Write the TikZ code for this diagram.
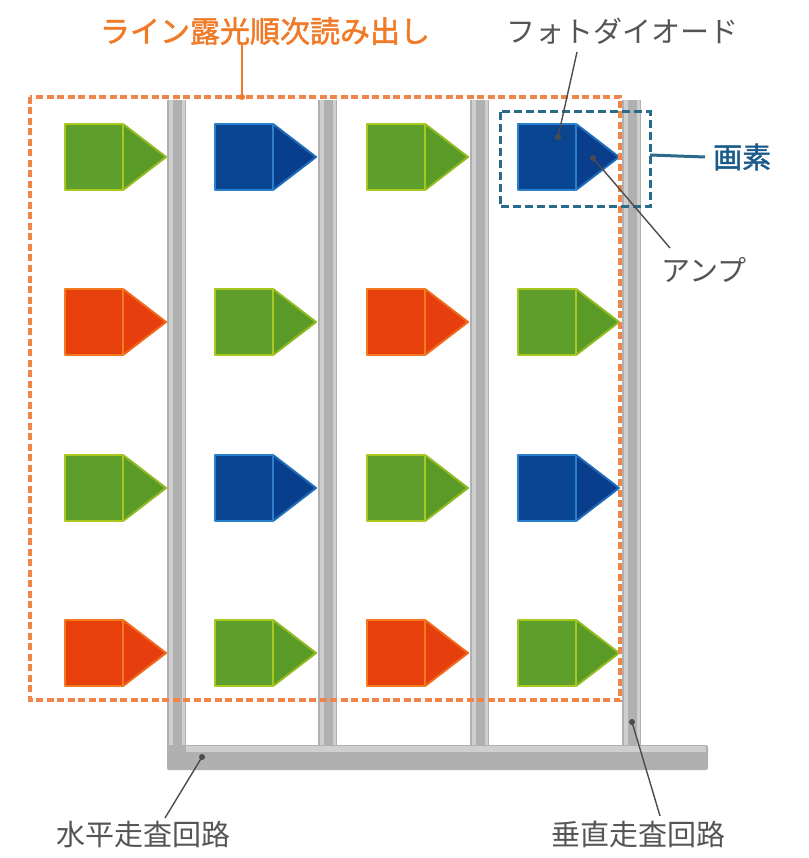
\documentclass[tikz,border=0pt]{standalone}
\usepackage{fontspec}
\setmainfont{Noto Sans CJK JP}
\newfontfamily\jpbold[FakeBold=1.6]{Noto Sans CJK JP}
\definecolor{gfill}{HTML}{5E9E2A}
\definecolor{gedge}{HTML}{A8C820}
\definecolor{gtri}{HTML}{5A9A26}
\definecolor{bfill}{HTML}{0A4592}
\definecolor{bedge}{HTML}{2A80CC}
\definecolor{btri}{HTML}{083E8C}
\definecolor{rfill}{HTML}{E8400C}
\definecolor{redge}{HTML}{F47A20}
\definecolor{rtri}{HTML}{E63E0C}
\definecolor{orangeL}{HTML}{F07A28}
\definecolor{orangeD}{HTML}{EF8548}
\definecolor{tealD}{HTML}{2A6A8A}
\definecolor{tealT}{HTML}{1A5A8A}
\definecolor{barA}{HTML}{B0B0B0}
\definecolor{barB}{HTML}{CFCFCF}
\definecolor{txtg}{HTML}{555555}
\newcommand\pixel[5]{%
  \fill[#5] (#1+58,#2) -- ++(43,33) -- ++(-43,33) -- cycle;
  \draw[#4!70!#5, line width=2pt, line join=round] (#1+58,#2) -- ++(43,33) -- ++(-43,33);
  \filldraw[fill=#3, draw=#4, line width=2.5pt, line join=round]
    (#1,#2) rectangle ++(58,66);
}
\begin{document}
\begin{tikzpicture}[x=1pt,y=-1pt,
  lbl/.style={inner sep=0pt, font=\fontsize{29}{32}\selectfont},
  ptr/.style={draw=black!70, line width=1.4pt},
  dot/.style={fill=black!70},
  vbar/.style={fill=barA},
  hl/.style={fill=barB}]
\useasboundingbox (0,0) rectangle (808,858);
% scanning circuits (gray bars)
\foreach \x in {167,318,470,622}{
  \fill[vbar] (\x,100) rectangle (\x+19,765);
  \fill[hl] (\x+2,100) rectangle (\x+6,765);
  \fill[hl] (\x+15,100) rectangle (\x+18,765);
}
\fill[vbar, rounded corners=2pt] (167,745) rectangle (708,770);
\fill[hl] (186,746) rectangle (706,752);
% pixels
\pixel{65}{124}{gfill}{gedge}{gtri}
\pixel{215}{124}{bfill}{bedge}{btri}
\pixel{367}{124}{gfill}{gedge}{gtri}
\pixel{518}{124}{bfill}{bedge}{btri}
\pixel{65}{289}{rfill}{redge}{rtri}
\pixel{215}{289}{gfill}{gedge}{gtri}
\pixel{367}{289}{rfill}{redge}{rtri}
\pixel{518}{289}{gfill}{gedge}{gtri}
\pixel{65}{455}{gfill}{gedge}{gtri}
\pixel{215}{455}{bfill}{bedge}{btri}
\pixel{367}{455}{gfill}{gedge}{gtri}
\pixel{518}{455}{bfill}{bedge}{btri}
\pixel{65}{620}{rfill}{redge}{rtri}
\pixel{215}{620}{gfill}{gedge}{gtri}
\pixel{367}{620}{rfill}{redge}{rtri}
\pixel{518}{620}{gfill}{gedge}{gtri}
% orange line-exposure box
\draw[orangeD, line width=3.5pt, dash pattern=on 7pt off 3.5pt] (30,97) rectangle (620,700);
% blue pixel box
\draw[tealD, line width=3pt, dash pattern=on 8pt off 4pt] (500,112) rectangle (650,207);
% labels
\node[lbl, text=orangeL, font=\jpbold\fontsize{30}{32}\selectfont] (lo) at (265,31) {ライン露光順次読み出し};
\node[lbl, text=txtg] (pd) at (622,31) {フォトダイオード};
\node[lbl, text=tealT, anchor=west, font=\jpbold\fontsize{29}{32}\selectfont] (gs) at (713,157) {画素};
\node[lbl, text=txtg] (amp) at (704,270) {アンプ};
\node[lbl, text=txtg] (hs) at (143,834) {水平走査回路};
\node[lbl, text=txtg] (vs) at (638,834) {垂直走査回路};
% connectors
\coordinate (od) at (242,97);
\draw[orangeL, line width=2pt] (lo.south -| od) -- (od);
\fill[orangeL] (od) circle (3);
\coordinate (pdt) at (577,52);
\coordinate (pdd) at (558,137);
\draw[ptr] (pdt) -- (pdd); \fill[dot] (pdd) circle (3);
\coordinate (gb) at (650,155);
\draw[tealD, line width=3pt] (gb) -- ([xshift=-8pt]gs.west);
\coordinate (ampd) at (593,158);
\coordinate (ampt) at (670,248);
\draw[ptr] (ampd) -- (ampt); \fill[dot] (ampd) circle (3);
\coordinate (hsd) at (202,757);
\coordinate (hst) at (165,818);
\draw[ptr] (hsd) -- (hst); \fill[dot] (hsd) circle (3);
\coordinate (vsd) at (632,722);
\coordinate (vst) at (660,816);
\draw[ptr] (vsd) -- (vst); \fill[dot] (vsd) circle (3);
\end{tikzpicture}
\end{document}
